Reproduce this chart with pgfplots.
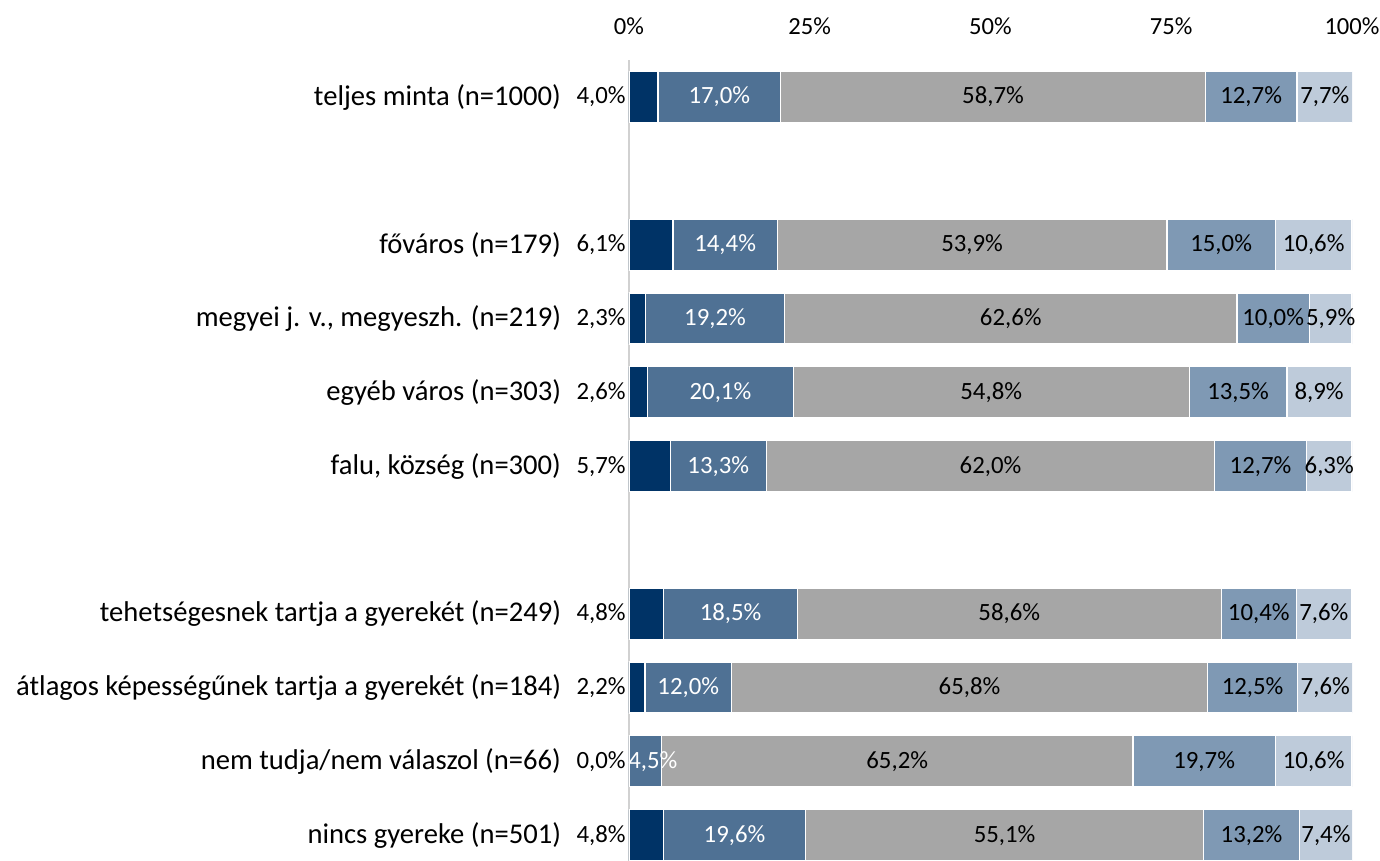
\documentclass[border=0pt]{standalone}
\usepackage{pgfplots}
\pgfplotsset{compat=1.18}
\usepackage{pgfplotstable}
\usepackage{fontspec}
\setmainfont{Carlito}
\definecolor{cA}{RGB}{0,51,102}
\definecolor{cB}{RGB}{79,113,148}
\definecolor{cC}{RGB}{166,166,166}
\definecolor{cD}{RGB}{127,153,180}
\definecolor{cE}{RGB}{190,203,218}
\pgfplotstableread{
y a b c d e
10 4.0 17.0 58.7 12.7 7.7
8 6.1 14.4 53.9 15.0 10.6
7 2.3 19.2 62.6 10.0 5.9
6 2.6 20.1 54.8 13.5 8.9
5 5.7 13.3 62.0 12.7 6.3
3 4.8 18.5 58.6 10.4 7.6
2 2.2 12.0 65.8 12.5 7.6
1 0.0 4.5 65.2 19.7 10.6
0 4.8 19.6 55.1 13.2 7.4
}\data
\pgfplotsset{
  /pgf/number format/assume math mode=true,
  common/.style={
    scale only axis, width=361.5pt, height=400.4pt,
    at={(0,0)}, anchor=south west,
    xmin=0, xmax=100, ymin=-0.35, ymax=10.5,
  },
  lbl/.style={draw=none, mark=none, nodes near coords={\pgfmathprintnumber[fixed,fixed zerofill,precision=1,use comma]{\pgfplotspointmeta}\%},
    point meta=explicit, nodes near coords align=center,
    every node near coord/.append style={anchor=center, font=\fontsize{12.4}{14}\selectfont, inner sep=1pt}},
}
\begin{document}
\begin{tikzpicture}
\useasboundingbox (-314.5pt,0pt) rectangle (375.5pt,430.5pt);
\begin{axis}[common,
  xbar stacked, bar width=25.5pt,
  axis line style={draw=none}, major tick length=0pt,
  xtick={0,25,50,75,100}, xticklabel pos=upper,
  xticklabel={\pgfmathprintnumber[fixed,precision=0]{\tick}\%},
  xticklabel style={yshift=9pt, font=\fontsize{12.3}{14}\selectfont},
  extra x ticks={0}, extra x tick labels={},
  extra x tick style={grid=major, major grid style={draw=black!18, line width=1pt}},
  ytick={0,1,2,3,5,6,7,8,10},
  yticklabels={nincs gyereke (n=501), nem tudja/nem válaszol (n=66), átlagos képességűnek tartja a gyerekét (n=184), tehetségesnek tartja a gyerekét (n=249), {falu, község (n=300)}, egyéb város (n=303), {megyei j. v., megyeszh. (n=219)}, főváros (n=179), teljes minta (n=1000)},
  yticklabel style={xshift=-30.5pt, font=\fontsize{14.3}{16}\selectfont},
]
\addplot[fill=cA, draw=white, line width=0.6pt] table[x=a, y=y] {\data};
\addplot[fill=cB, draw=white, line width=0.6pt] table[x=b, y=y] {\data};
\addplot[fill=cC, draw=white, line width=0.6pt] table[x=c, y=y] {\data};
\addplot[fill=cD, draw=white, line width=0.6pt] table[x=d, y=y] {\data};
\addplot[fill=cE, draw=white, line width=0.6pt] table[x=e, y=y] {\data};
\end{axis}
\begin{axis}[common, hide axis]
\addplot[lbl, every node near coord/.append style={anchor=east, xshift=-0.5pt}] table[x expr=0, y=y, meta=a] {\data};
\addplot[lbl, every node near coord/.append style={text=white}] table[x expr={\thisrow{a}+max(\thisrow{b}/2,3.3)}, y=y, meta=b] {\data};
\addplot[lbl] table[x expr=\thisrow{a}+\thisrow{b}+\thisrow{c}/2, y=y, meta=c] {\data};
\addplot[lbl] table[x expr=\thisrow{a}+\thisrow{b}+\thisrow{c}+\thisrow{d}/2, y=y, meta=d] {\data};
\addplot[lbl] table[x expr=\thisrow{a}+\thisrow{b}+\thisrow{c}+\thisrow{d}+\thisrow{e}/2, y=y, meta=e] {\data};
\end{axis}
\end{tikzpicture}
\end{document}
